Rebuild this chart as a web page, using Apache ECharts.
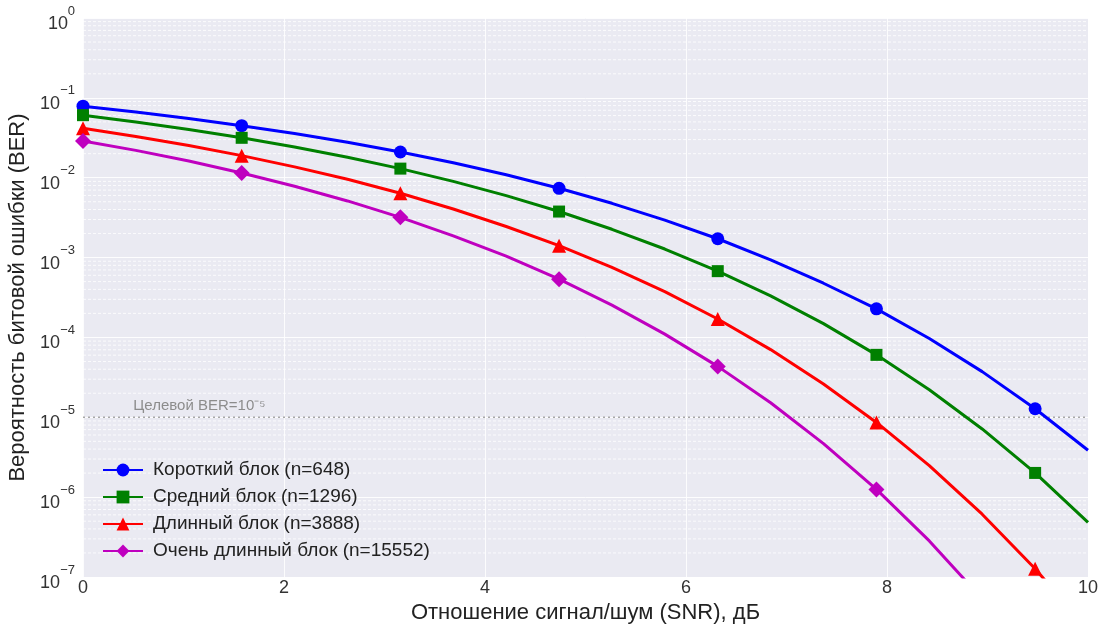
<!DOCTYPE html>
<html>
<head>
<meta charset="utf-8">
<script src="https://cdn.jsdelivr.net/npm/echarts@6/dist/echarts.min.js"></script>
<style>
  html, body { margin: 0; padding: 0; background: #ffffff; }
  #chart { width: 1104px; height: 627px; }
</style>
</head>
<body>
<div id="chart"></div>
<script>
// SNR grid (dB) shared by all curves
const snrDb = [0, 0.526, 1.053, 1.579, 2.105, 2.632, 3.158, 3.684, 4.211, 4.737,
               5.263, 5.789, 6.316, 6.842, 7.368, 7.895, 8.421, 8.947, 9.474, 10];

// Bit error rate per block length
const berShort = [7.86e-2, 6.66e-2, 5.53e-2, 4.48e-2, 3.58e-2, 2.78e-2, 2.10e-2, 1.54e-2, 1.09e-2, 7.37e-3,
                  4.78e-3, 2.94e-3, 1.72e-3, 9.37e-4, 4.77e-4, 2.28e-4, 9.7e-5, 3.73e-5, 1.28e-5, 3.87e-6];
const berMedium = [6.07e-2, 5.00e-2, 4.02e-2, 3.16e-2, 2.42e-2, 1.80e-2, 1.30e-2, 9.0e-3, 5.97e-3, 3.77e-3,
                   2.26e-3, 1.28e-3, 6.76e-4, 3.32e-4, 1.49e-4, 6.05e-5, 2.21e-5, 7.14e-6, 2.01e-6, 4.82e-7];
const berLong = [4.17e-2, 3.29e-2, 2.53e-2, 1.89e-2, 1.367e-2, 9.55e-3, 6.38e-3, 4.06e-3, 2.45e-3, 1.41e-3,
                 7.56e-4, 3.74e-4, 1.70e-4, 7.04e-5, 2.61e-5, 8.62e-6, 2.48e-6, 6.11e-7, 1.27e-7, 2.16e-8];
const berVeryLong = [2.89e-2, 2.20e-2, 1.62e-2, 1.144e-2, 7.83e-3, 5.12e-3, 3.19e-3, 1.87e-3, 1.04e-3, 5.36e-4,
                     2.54e-4, 1.10e-4, 4.34e-5, 1.52e-5, 4.68e-6, 1.25e-6, 2.83e-7, 5.33e-8, 8.2e-9, 9.9e-10];

const seriesNames = ['Короткий блок (n=648)', 'Средний блок (n=1296)',
                     'Длинный блок (n=3888)', 'Очень длинный блок (n=15552)'];
const xTicks = [0, 2, 4, 6, 8, 10];
const targetBer = 1e-5;
const targetLabel = 'Целевой BER=10⁻⁵';
const xTitle = 'Отношение сигнал/шум (SNR), дБ';
const yTitle = 'Вероятность битовой ошибки (BER)';

// a marker is shown on every third sample
const MARK_EVERY = 3;

const curves = [
  { data: berShort,    color: '#0000FF', symbol: 'circle',   size: 13 },
  { data: berMedium,   color: '#008000', symbol: 'rect',     size: 12 },
  { data: berLong,     color: '#FF0000', symbol: 'triangle', size: 14 },
  { data: berVeryLong, color: '#BF00BF', symbol: 'diamond',  size: 16 }
];

// minor grid levels at 2..9 x 10^k
const minorLevels = [];
for (let k = -7; k < 0; k++) {
  for (let m = 2; m <= 9; m++) minorLevels.push(m * Math.pow(10, k));
}

const FONT = 'Liberation Sans, Arial, sans-serif';
const X_MIN = 0, X_MAX = 10;

const lineSeries = curves.map((c, idx) => ({
  name: seriesNames[idx],
  type: 'line',
  z: 4,
  clip: true,
  symbol: c.symbol,
  symbolSize: c.size,
  color: c.color,
  lineStyle: { color: c.color, width: 3 },
  itemStyle: { color: c.color },
  emphasis: { disabled: true },
  data: snrDb.map((x, i) => i % MARK_EVERY === 0
    ? { value: [x, c.data[i]] }
    : { value: [x, c.data[i]], symbol: 'none' })
}));

// dashed minor grid, drawn through the axis scales
const minorGridSeries = {
  name: 'minor-grid',
  type: 'custom',
  z: 1,
  silent: true,
  clip: true,
  data: minorLevels.map(v => [X_MIN, v]),
  encode: { x: 0, y: 1 },
  renderItem: (params, api) => {
    const p1 = api.coord([X_MIN, api.value(1)]);
    const p2 = api.coord([X_MAX, api.value(1)]);
    return {
      type: 'line',
      shape: { x1: p1[0], y1: p1[1], x2: p2[0], y2: p2[1] },
      style: { stroke: 'rgba(255,255,255,0.8)', lineWidth: 1, lineDash: [3, 2] }
    };
  }
};

// target BER level with its caption
const targetSeries = {
  name: 'target',
  type: 'line',
  z: 2,
  silent: true,
  symbol: 'none',
  lineStyle: { color: '#A8A8A8', type: [2, 3], width: 1.6 },
  data: [[X_MIN, targetBer], [X_MAX, targetBer]],
  markPoint: {
    silent: true,
    animation: false,
    symbol: 'circle',
    symbolSize: 0,
    data: [{
      coord: [0.5, targetBer],
      label: {
        show: true,
        position: 'right',
        distance: 0,
        offset: [0, -11],
        formatter: targetLabel,
        color: '#8C8C8C',
        fontSize: 15,
        fontFamily: FONT
      }
    }]
  }
};

const chart = echarts.init(document.getElementById('chart'), null, { renderer: 'canvas' });
chart.setOption({
  animation: false,
  backgroundColor: '#ffffff',
  textStyle: { fontFamily: FONT },
  grid: {
    left: 83, right: 16, top: 18, bottom: 50,
    outerBoundsMode: 'none',
    containLabel: false,
    show: true, backgroundColor: '#EAEAF2', borderWidth: 0
  },
  legend: {
    data: seriesNames,
    orient: 'vertical',
    left: 97,
    top: 455,
    itemWidth: 40,
    itemHeight: 16,
    itemGap: 7,
    selectedMode: false,
    textStyle: { fontSize: 19, color: '#222', lineHeight: 20, padding: [0, 0, 0, 5], fontFamily: FONT }
  },
  xAxis: {
    type: 'value',
    min: X_MIN, max: X_MAX, interval: 2,
    name: xTitle,
    nameLocation: 'middle',
    nameGap: 23,
    nameTextStyle: { fontSize: 22, color: '#222', fontFamily: FONT },
    axisLine: { show: false },
    axisTick: { show: false },
    axisLabel: { fontSize: 18, color: '#333', margin: 2, fontFamily: FONT,
                 formatter: v => xTicks.indexOf(v) >= 0 ? String(v) : '' },
    splitLine: { show: true, lineStyle: { color: 'rgba(255,255,255,0.85)', width: 1 } }
  },
  yAxis: {
    type: 'log',
    logBase: 10,
    min: 1e-7, max: 1,
    interval: 1,
    name: yTitle,
    nameLocation: 'middle',
    nameGap: 47,
    nameTextStyle: { fontSize: 22, color: '#222', fontFamily: FONT },
    axisLine: { show: false },
    axisTick: { show: false },
    splitLine: { show: true, lineStyle: { color: 'rgba(255,255,255,0.9)', width: 1 } },
    axisLabel: {
      margin: 8,
      fontFamily: FONT,
      formatter: v => {
        const e = Math.round(Math.log10(v));
        const exp = e < 0 ? '\u2212' + (-e) : String(e);
        return '{s|' + exp + '}\n{' + (e < 0 ? 'bn' : 'b0') + '|10}';
      },
      rich: {
        s: { fontSize: 13, color: '#333', lineHeight: 12, align: 'right', fontFamily: FONT },
        b0: { fontSize: 18, color: '#333', lineHeight: 14, align: 'right', padding: [0, 7, 0, 0], fontFamily: FONT },
        bn: { fontSize: 18, color: '#333', lineHeight: 14, align: 'right', padding: [0, 15, 0, 0], fontFamily: FONT }
      }
    }
  },
  series: [minorGridSeries, targetSeries].concat(lineSeries)
});
</script>
</body>
</html>
